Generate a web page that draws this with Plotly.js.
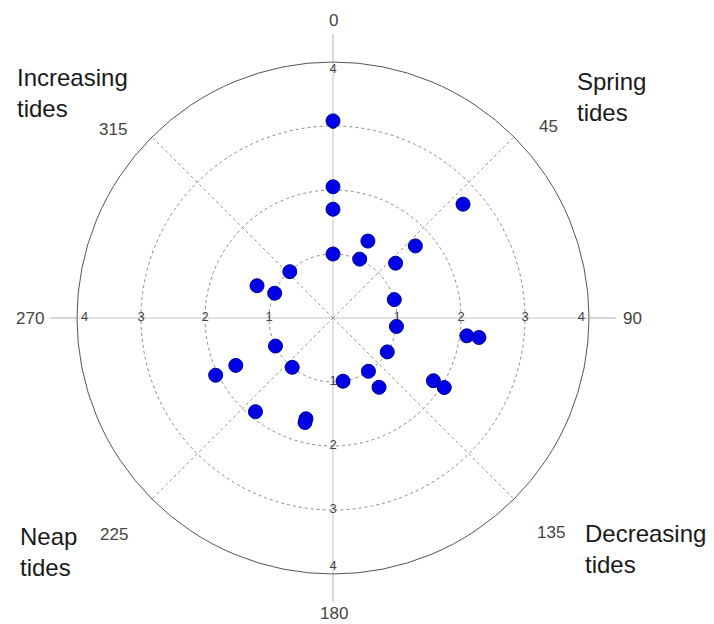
<!DOCTYPE html>
<html>
<head>
<meta charset="utf-8">
<script src="https://cdn.plot.ly/plotly-3.0.1.min.js"></script>
<style>
  html, body { margin: 0; padding: 0; background: #fff; }
  #chart { width: 714px; height: 624px; }
</style>
</head>
<body>
<div id="chart"></div>
<script>
// ---- data ----
var pointTheta = [0, 0, 0, 0, 24.4, 24.4, 48.8, 48.8, 48.8, 73.3, 97.6, 97.6, 97.6,
                  122, 122, 122, 146.4, 146.4, 171, 195, 195, 219.6, 219.6,
                  244, 244, 244, 293, 293, 317];
var pointR     = [3.08, 2.05, 1.70, 1.00, 1.32, 1.01, 2.70, 1.71, 1.30, 1.00, 1.00, 2.11, 2.30,
                  1.00, 1.85, 2.05, 1.00, 1.30, 1.00, 1.63, 1.69, 1.90, 1.00,
                  1.00, 1.69, 2.04, 0.99, 1.29, 0.99];

var radialTickValues = [1, 2, 3, 4];
var radialTickLabels = ['1', '2', '3', '4'];
var radialLabelAngles = [0, 90, 180, 270];

var cardinalAngles = [0, 90, 180, 270];
var diagonalAngles = [45, 135, 225, 315];

var angleLabels = ['0', '45', '90', '135', '180', '225', '270', '315'];
var quadrantLabels = ['Increasing<br>tides', 'Spring<br>tides', 'Neap<br>tides', 'Decreasing<br>tides'];

// ---- build traces ----
var FONT = '"Liberation Sans", Arial, Helvetica, sans-serif';

// dotted diagonal spokes
var spokeR = [], spokeT = [];
diagonalAngles.forEach(function (a) {
  spokeR.push(0, 4, null);
  spokeT.push(a, a, null);
});

// radial tick labels on the four cardinal spokes
var lblR = [], lblT = [], lblTxt = [];
radialLabelAngles.forEach(function (a) {
  radialTickValues.forEach(function (v, i) {
    lblR.push(v === 4 ? v - 0.12 : v);
    lblT.push(a);
    lblTxt.push(radialTickLabels[i]);
  });
});

var traces = [
  {
    type: 'scatterpolar', mode: 'lines',
    r: spokeR, theta: spokeT,
    line: { color: '#9a9a9a', width: 1, dash: 'dot' },
    hoverinfo: 'skip', showlegend: false
  },
  {
    type: 'scatterpolar', mode: 'text',
    r: lblR, theta: lblT, text: lblTxt,
    textposition: 'middle center',
    textfont: { family: FONT, size: 13, color: '#444' },
    cliponaxis: false, hoverinfo: 'skip', showlegend: false
  },
  {
    type: 'scatterpolar', mode: 'markers',
    r: pointR, theta: pointTheta,
    marker: { size: 14, color: '#0000e6', line: { color: '#00008c', width: 1 } },
    cliponaxis: false, showlegend: false
  }
];

// ---- annotations (angle labels and quadrant names) ----
function px2x(px) { return (px - 77) / 512; }
function py2y(py) { return (574 - py) / 512; }

var anglePos = {
  '0':   [333, 20], '45':  [548, 126], '90':  [632, 318], '135': [551, 532],
  '180': [334, 613], '225': [114, 534], '270': [30, 318], '315': [113, 129]
};
var annotations = angleLabels.map(function (t) {
  return {
    xref: 'paper', yref: 'paper', x: px2x(anglePos[t][0]), y: py2y(anglePos[t][1]),
    xanchor: 'center', yanchor: 'middle', showarrow: false, text: t,
    font: { family: FONT, size: 17, color: '#444' }
  };
});
var quadPos = [[15, 62], [575, 66], [18, 521], [583, 518]];
quadrantLabels.forEach(function (t, i) {
  annotations.push({
    xref: 'paper', yref: 'paper', x: px2x(quadPos[i][0]), y: py2y(quadPos[i][1]),
    xanchor: 'left', yanchor: 'top', align: 'left', showarrow: false, text: t,
    font: { family: FONT, size: 24, color: '#1a1a1a' }
  });
});

var layout = {
  width: 714, height: 624,
  margin: { l: 77, r: 125, t: 62, b: 50, pad: 0 },
  paper_bgcolor: '#fff',
  showlegend: false,
  polar: {
    domain: { x: [0, 1], y: [0, 1] },
    bgcolor: '#fff',
    radialaxis: {
      range: [0, 4], tickvals: [1, 2, 3],
      showticklabels: false, ticks: '', showline: false,
      showgrid: true, gridcolor: '#8a8a8a', griddash: 'dot', gridwidth: 1
    },
    angularaxis: {
      rotation: 90, direction: 'clockwise',
      tickvals: cardinalAngles, showticklabels: false,
      ticks: 'outside', ticklen: 27, tickcolor: '#b0b0b0', tickwidth: 1,
      showgrid: true, gridcolor: '#c4c4c4', gridwidth: 1,
      showline: true, linecolor: '#555', linewidth: 1
    }
  },
  annotations: annotations
};

Plotly.newPlot('chart', traces, layout, { displayModeBar: false, staticPlot: true });
</script>
</body>
</html>
